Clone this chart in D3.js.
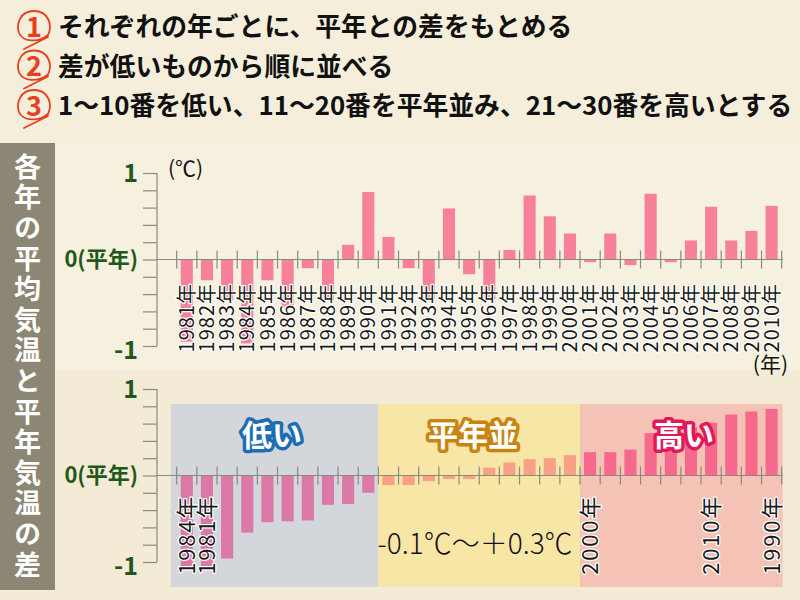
<!DOCTYPE html>
<html><head><meta charset="utf-8">
<script src="https://cdn.jsdelivr.net/npm/d3@7"></script>
<style>
html,body{margin:0;padding:0;background:#f4eedb;}
svg{display:block;}
text{font-family:"Noto Sans CJK JP","Noto Sans",sans-serif;}
</style></head>
<body>
<svg id="c" width="800" height="600"></svg>
<script>
// ---------- data ----------
const headerLines = [
  "それぞれの年ごとに、平年との差をもとめる",
  "差が低いものから順に並べる",
  "1～10番を低い、11～20番を平年並み、21～30番を高いとする"
];
const headerNums = ["1","2","3"];
const sideTitle = "各年の平均気温と平年気温の差";
const years = ["1981","1982","1983","1984","1985","1986","1987","1988","1989","1990",
               "1991","1992","1993","1994","1995","1996","1997","1998","1999","2000",
               "2001","2002","2003","2004","2005","2006","2007","2008","2009","2010"];
const yearValues = [-0.95,-0.24,-0.47,-0.97,-0.24,-0.55,-0.10,-0.47,0.17,0.78,
                    0.26,-0.10,-0.46,0.59,-0.17,-0.46,0.11,0.74,0.50,0.30,
                    -0.03,0.30,-0.065,0.76,-0.03,0.22,0.61,0.22,0.33,0.62];
const rankValues = [-1.08,-1.06,-0.96,-0.66,-0.54,-0.53,-0.52,-0.34,-0.33,-0.20,
                    -0.11,-0.11,-0.065,-0.04,-0.04,0.09,0.15,0.19,0.20,0.235,
                    0.27,0.27,0.30,0.49,0.52,0.56,0.61,0.705,0.74,0.77];
const rankLabelIndex = [0,1,20,26,29];
const rankLabelText = ["1984年","1981年","2000年","2010年","1990年"];
const groupNames = ["低い","平年並","高い"];
const yTickLabels = ["1","0(平年)","-1"];
const yTickValues = [1,0,-1];
const rangeText = "-0.1℃～＋0.3℃";

// ---------- styles ----------
const svg = d3.select("#c");
const greenTxt = "#22581a";
const axisCol = "#8a8a80";
const groupBg = ["#d3d6da","#f8e6a6","#f5c3b6"];
const groupBar = ["#dc78a8","#f9a089","#f6698c"];
const groupStroke = ["#1d6cb6","#c98410","#e2185a"];

// backgrounds
svg.append("rect").attr("x",0).attr("y",0).attr("width",800).attr("height",600).attr("fill","#f4eedb");
svg.append("rect").attr("x",0).attr("y",142).attr("width",800).attr("height",228).attr("fill","#f6f0df");
svg.append("rect").attr("x",0).attr("y",370).attr("width",800).attr("height",230).attr("fill","#f3ebd5");

// header
headerLines.forEach((t,i)=>{
  const cy = 27 + i*39.5;
  svg.append("text").attr("x",58).attr("y",cy).attr("dy","0.36em")
    .attr("font-size",25.8).attr("font-weight",700).attr("fill","#111").text(t);
  const cx = 34;
  svg.append("text").attr("x",cx).attr("y",cy).attr("dy","0.36em").attr("text-anchor","middle")
    .attr("font-family","Liberation Sans, Arial, sans-serif")
    .attr("font-size",27).attr("font-weight",700).attr("fill","#e8401e").text(headerNums[i]);
  const p = d3.path();
  p.moveTo(cx+13, cy+10);
  p.bezierCurveTo(cx+20, cy-2, cx+14, cy-16, cx, cy-16);
  p.bezierCurveTo(cx-14, cy-16, cx-18, cy-3, cx-15, cy+6);
  p.bezierCurveTo(cx-11, cy+15, cx+4, cy+16, cx+14, cy+8);
  p.moveTo(cx+14, cy+10);
  p.quadraticCurveTo(cx+2, cy+16, cx-10, cy+22);
  svg.append("path").attr("d",p.toString()).attr("fill","none")
    .attr("stroke","#e8401e").attr("stroke-width",1.8).attr("stroke-linecap","round");
});

// side bar
svg.append("rect").attr("x",0).attr("y",143).attr("width",55).attr("height",447).attr("fill","#8c8675");
svg.append("text").attr("x",27.5).attr("y",153)
  .attr("writing-mode","vertical-rl").attr("font-size",27).attr("font-weight",700)
  .attr("letter-spacing",3.6).attr("fill","#fff").text(sideTitle);

// ---------- chart builder ----------
const x0 = 176.7, x1 = 781.7;
function drawPanel(cfg){
  const g = svg.append("g");
  const y = d3.scaleLinear().domain([-1,1]).range([cfg.zero+86.5, cfg.zero-86.5]);
  const x = d3.scaleBand().domain(d3.range(30)).range([x0,x1]).paddingInner(0.4).paddingOuter(0.2);
  const step = x.step();

  if (cfg.groups){
    [0,1,2].forEach(k=>{
      const left = k===0 ? x0-6 : x0 + k*10*step;
      const right = x0 + (k+1)*10*step + (k===2?1:0);
      g.append("rect").attr("x",left).attr("y",404).attr("width",right-left).attr("height",183)
        .attr("fill",groupBg[k]);
    });
  }

  // y axis
  const yAxis = d3.axisLeft(y).tickValues(d3.range(-1,1.0001,0.2)).tickSize(14).tickFormat("");
  const ya = g.append("g").attr("transform","translate(157,0)").call(yAxis);
  ya.selectAll("path,line").attr("stroke",axisCol).attr("stroke-width",1.2);
  ya.select(".domain").attr("d",`M0,${y(1)}V${y(-1)}`);

  yTickValues.forEach((v,i)=>{
    g.append("text").attr("x",138).attr("y",y(v)+(v===-1?4:0)).attr("dy","0.36em")
      .attr("text-anchor","end").attr("font-size",i===1?22:25).attr("font-weight",700)
      .attr("fill",greenTxt).text(yTickLabels[i]);
  });

  // bars
  g.selectAll("rect.bar").data(cfg.values).enter().append("rect").attr("class","bar")
    .attr("x",(d,i)=>x(i)).attr("width",x.bandwidth())
    .attr("y",d=>y(Math.max(0,d))).attr("height",d=>Math.abs(y(d)-y(0)))
    .attr("fill",(d,i)=>cfg.groups ? groupBar[Math.floor(i/10)] : "#f7819b");

  // x axis baseline and band ticks
  g.append("line").attr("x1",157).attr("x2",783).attr("y1",y(0)).attr("y2",y(0))
    .attr("stroke",axisCol).attr("stroke-width",1.2);
  const edges = d3.range(31).map(i=>x0 + i*step);
  g.selectAll("line.bt").data(edges).enter().append("line").attr("class","bt")
    .attr("x1",d=>d).attr("x2",d=>d).attr("y1",y(0)-9).attr("y2",y(0)+9)
    .attr("stroke",axisCol).attr("stroke-width",1.2);

  // labels
  cfg.labels.forEach(l=>{
    const cx = x(l.i) + x.bandwidth()/2;
    g.append("text").attr("transform",`translate(${cx},${cfg.labelTop}) rotate(-90)`)
      .attr("text-anchor","end").attr("dy","0.36em")
      .attr("font-size",cfg.labelSize).attr("letter-spacing",cfg.labelSpacing).attr("fill","#1a1a1a")
      .attr("stroke","#fff").attr("stroke-width",2.5).attr("paint-order","stroke")
      .attr("stroke-linejoin","round").text(l.t);
  });

  if (cfg.groups){
    const cxs = [272,473,684];
    groupNames.forEach((n,k)=>{
      g.append("text").attr("x",cxs[k]).attr("y",435).attr("dy","0.36em").attr("text-anchor","middle")
        .attr("font-size",30).attr("font-weight",700).attr("fill","#fff")
        .attr("stroke",groupStroke[k]).attr("stroke-width",7).attr("stroke-linejoin","round")
        .attr("paint-order","stroke").text(n);
    });
    g.append("text").attr("x",475).attr("y",544).attr("dy","0.36em").attr("text-anchor","middle")
      .attr("font-size",28).attr("font-weight",300).attr("fill","#111").text(rangeText);
  }
  return {x,y};
}

drawPanel({
  zero:259.5, values:yearValues, groups:false, labelTop:283, labelSize:20, labelSpacing:1,
  labels: years.map((t,i)=>({i, t:t+"年"}))
});
svg.append("text").attr("x",168).attr("y",168).attr("dy","0.36em").attr("font-size",21)
  .attr("fill","#111").text("(℃)");
svg.append("text").attr("x",788).attr("y",364).attr("dy","0.36em").attr("text-anchor","end")
  .attr("font-size",21).attr("fill","#111").text("(年)");

drawPanel({
  zero:475.5, values:rankValues, groups:true, labelTop:495, labelSize:22, labelSpacing:1.8,
  labels: rankLabelIndex.map((idx,k)=>({i:idx, t:rankLabelText[k]}))
});
</script>
</body></html>
